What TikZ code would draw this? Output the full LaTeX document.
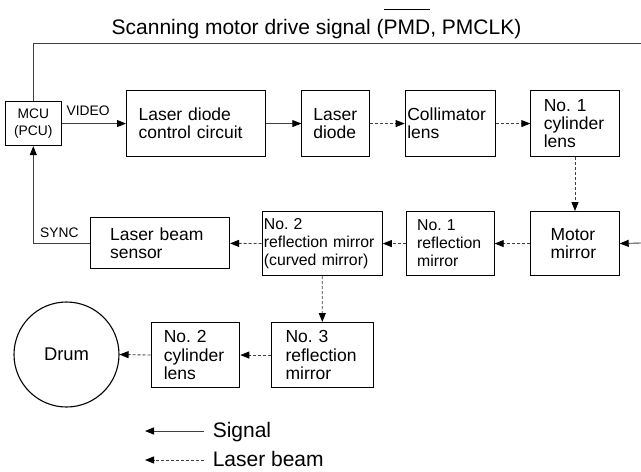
\documentclass[tikz,border=0pt]{standalone}
\usepackage{fontspec}
\setmainfont{Liberation Sans}
\usetikzlibrary{arrows.meta}
\frenchspacing
\newcommand\myovl[1]{\setbox0\hbox{#1}\rlap{\rule[24.8pt]{\wd0}{0.9pt}}\box0}
\begin{document}
\frenchspacing
\begin{tikzpicture}[x=1pt,y=-1pt,
  box/.style={draw=black, line width=1.1pt, rectangle, inner ysep=0pt, align=left, anchor=north west,
    font=\fontsize{17.5}{18.3}\selectfont},
  smallf/.style={font=\fontsize{15.8}{18}\selectfont},
  lbl/.style={inner sep=0pt, anchor=base west, font=\fontsize{13.8}{16}\selectfont},
  sig/.style={line width=0.9pt, draw=black!75},
  sigar/.style={sig, -{Triangle[length=9pt,width=7pt,color=black]}},
  beam/.style={line width=0.9pt, draw=black!75, dash pattern=on 3pt off 2pt,
    -{Triangle[length=9pt,width=7pt,color=black]}},
]
\useasboundingbox[fill=white] (0,0) rectangle (641,472);

% title
\node[anchor=base, inner sep=0pt, font=\fontsize{21}{25}\selectfont] (title) at (316.5,34.3)
  {Scanning motor drive signal (\myovl{PMD}, PMCLK)};

% boxes
\node[box, minimum width=55.5pt, minimum height=44pt, align=center, inner xsep=0pt,
  font=\fontsize{13.8}{16.5}\selectfont] (mcu) at (5,101) {MCU\\(PCU)};
\node[box, minimum height=66pt, text width=115pt, inner xsep=12pt] (ldcc) at (126,90)
  {Laser diode\\control circuit};
\node[box, minimum height=66pt, text width=45pt, inner xsep=11.5pt] (ld) at (301.3,90)
  {Laser\\diode};
\node[box, minimum height=66pt, text width=86pt, inner xsep=2pt] (col) at (404.7,90)
  {Collimator\\lens};
\node[box, minimum height=66pt, text width=62.3pt, inner xsep=13pt] (cyl1) at (530.3,90)
  {No. 1\\cylinder\\lens};
\node[box, minimum height=64pt, text width=49pt, inner xsep=19.65pt] (motor) at (530.3,211)
  {Motor\\mirror};
\node[box, smallf, minimum height=64pt, text width=66pt, inner xsep=11pt] (refl1) at (405.6,211)
  {No. 1\\reflection\\mirror};
\node[box, smallf, minimum height=64pt, text width=116.8pt, inner xsep=1.6pt] (refl2) at (261.7,211)
  {No. 2\\reflection mirror\\(curved mirror)};
\node[box, minimum height=51pt, text width=100pt, inner xsep=19.5pt] (lbs) at (90,217.3)
  {Laser beam\\sensor};
\node[box, minimum height=65pt, text width=73.5pt, inner xsep=14.4pt] (refl3) at (270.6,322)
  {No. 3\\reflection\\mirror};
\node[box, minimum height=65pt, text width=63.1pt, inner xsep=12.8pt] (cyl2) at (150.5,322)
  {No. 2\\cylinder\\lens};
\node[circle, draw=black, line width=1.1pt, minimum size=105pt, inner sep=0pt,
  font=\fontsize{18.4}{20}\selectfont] (drum) at (66.5,354.5) {Drum};

% labels
\node[lbl] (video) at (66.5,115) {VIDEO};
\node[lbl] (sync) at (40,237.5) {SYNC};

% connectors
\coordinate (tr) at (641,43.3);
\coordinate (rin) at (641,243);
\draw[sig] (mcu.north) |- (tr);
\draw[sigar] (mcu.east) -- (ldcc.west);
\draw[sigar] (ldcc.east) -- (ld.west);
\draw[beam] (ld.east) -- (col.west);
\draw[beam] (col.east) -- (cyl1.west);
\draw[beam] (cyl1.south) -- (motor.north);
\draw[sigar] (rin) -- (motor.east);
\draw[beam] (motor.west) -- (refl1.east);
\draw[beam] (refl1.west) -- (refl2.east);
\draw[beam] (refl2.west) -- (lbs.east);
\draw[sigar] (lbs.west) -| (mcu.south);
\draw[beam] (refl2.south) -- (refl3.north);
\draw[beam] (refl3.west) -- (cyl2.east);
\draw[beam] (cyl2.west) -- (drum.east);

% legend
\coordinate (l1a) at (204,431);
\coordinate (l1b) at (145,431);
\coordinate (l2a) at (204,460);
\coordinate (l2b) at (145,460);
\draw[sigar] (l1a) -- (l1b);
\draw[beam] (l2a) -- (l2b);
\node[inner sep=0pt, anchor=base west, font=\fontsize{21}{25}\selectfont] (sigt) at (212.6,437.5) {Signal};
\node[inner sep=0pt, anchor=base west, font=\fontsize{21}{25}\selectfont] (beamt) at (212.6,466) {Laser beam};
\end{tikzpicture}
\end{document}
